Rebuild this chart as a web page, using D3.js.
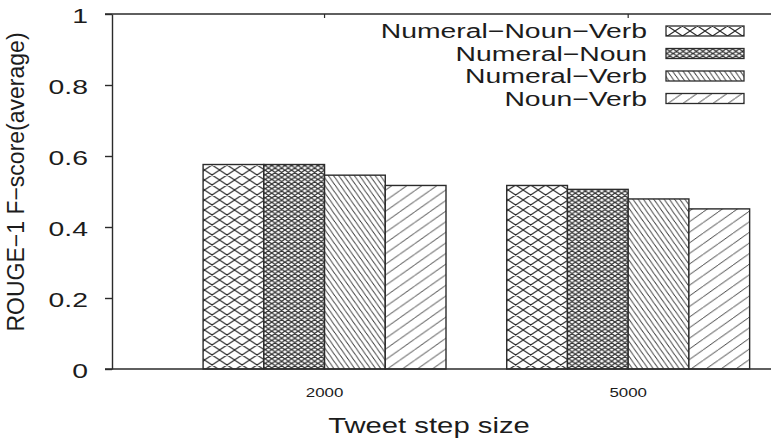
<!DOCTYPE html>
<html>
<head>
<meta charset="utf-8">
<script src="https://cdn.jsdelivr.net/npm/d3@7"></script>
<style>
  html, body { margin: 0; padding: 0; background: #fff; }
  svg { display: block; font-family: "Liberation Sans", Arial, Helvetica, sans-serif; }
</style>
</head>
<body>
<div id="chart"></div>
<script>
const categories = ["2000", "5000"];
const seriesNames = ["Numeral\u2212Noun\u2212Verb", "Numeral\u2212Noun", "Numeral\u2212Verb", "Noun\u2212Verb"];
const values2000 = [0.576, 0.576, 0.546, 0.517];
const values5000 = [0.517, 0.506, 0.479, 0.451];
const yTicks = [0, 0.2, 0.4, 0.6, 0.8, 1];
const yTickLabels = ["0", "0.2", "0.4", "0.6", "0.8", "1"];

const valuesByCategory = [values2000, values5000];

const width = 771;
const height = 440;
const ink = "#2b2b2b";
const textInk = "#1c1c1c";
const stretch = 1.35; // the original's text is drawn wide

const svg = d3.select("#chart")
  .append("svg")
  .attr("width", width)
  .attr("height", height);

// hatch fills, one per series
const defs = svg.append("defs");
const patterns = [
  { id: "p0", w: 15, h: 10, cross: true, sw: 1.1 },
  { id: "p1", w: 6.6, h: 4.6, cross: true, sw: 1.2 },
  { id: "p2", w: 5.2, h: 7.4, back: true, sw: 0.9 },
  { id: "p3", w: 15, h: 10.6, fwd: true, sw: 0.9 }
];
patterns.forEach(p => {
  const pat = defs.append("pattern")
    .attr("id", p.id)
    .attr("patternUnits", "userSpaceOnUse")
    .attr("width", p.w)
    .attr("height", p.h);
  pat.append("rect").attr("width", p.w).attr("height", p.h).attr("fill", "#fff");
  const w = p.w, h = p.h;
  let d = "";
  if (p.cross || p.fwd) {
    d += `M${-w},${h}L0,0M0,${h}L${w},0M${w},${h}L${2 * w},0`;
  }
  if (p.cross || p.back) {
    d += `M${-w},0L0,${h}M0,0L${w},${h}M${w},0L${2 * w},${h}`;
  }
  pat.append("path")
    .attr("d", d)
    .attr("stroke", ink)
    .attr("stroke-width", p.sw)
    .attr("fill", "none");
});

const x = d3.scaleLinear().domain([-0.7, 1.5]).range([112, 780]);
const y = d3.scaleLinear().domain([0, 1]).range([369, 14]);

const groupWidth = x(0.8) - x(0);
const xInner = d3.scaleBand().domain(seriesNames).range([-groupWidth / 2, groupWidth / 2]);

// bars
const groups = svg.selectAll("g.group")
  .data(categories)
  .enter()
  .append("g")
  .attr("class", "group")
  .attr("transform", (d, i) => `translate(${x(i)},0)`);

groups.selectAll("rect")
  .data((d, i) => valuesByCategory[i].map((v, j) => ({ name: seriesNames[j], value: v, idx: j })))
  .enter()
  .append("rect")
  .attr("x", d => xInner(d.name))
  .attr("y", d => y(d.value))
  .attr("width", xInner.bandwidth())
  .attr("height", d => y(0) - y(d.value))
  .attr("fill", d => `url(#${patterns[d.idx].id})`)
  .attr("stroke", ink)
  .attr("stroke-width", 1.4);

// frame: top and bottom lines run off the right edge
svg.append("path")
  .attr("d", `M105,${y(1)}H${width}M105,${y(0)}H${width}`)
  .attr("stroke", ink)
  .attr("stroke-width", 1.4)
  .attr("fill", "none");

// y axis
const yAxis = svg.append("g")
  .attr("transform", `translate(${x(-0.7)},0)`)
  .call(d3.axisLeft(y).tickValues(yTicks).tickFormat((d, i) => yTickLabels[i]).tickSize(7).tickSizeOuter(0));
yAxis.select(".domain").attr("stroke", ink).attr("stroke-width", 1.4);
yAxis.selectAll(".tick line").attr("stroke", ink).attr("stroke-width", 1.4);
yAxis.selectAll(".tick text")
  .attr("x", null)
  .attr("dy", null)
  .attr("fill", textInk)
  .attr("font-size", 21)
  .attr("text-anchor", "end")
  .attr("dominant-baseline", "central")
  .attr("transform", `translate(-24,1) scale(${stretch},1)`);

// mirrored category ticks at the top
svg.selectAll("line.topTick")
  .data(categories)
  .enter()
  .append("line")
  .attr("class", "topTick")
  .attr("x1", (d, i) => x(i))
  .attr("x2", (d, i) => x(i))
  .attr("y1", y(1))
  .attr("y2", y(1) + 4)
  .attr("stroke", ink)
  .attr("stroke-width", 1.2);

// x tick labels
svg.selectAll("text.xTick")
  .data(categories)
  .enter()
  .append("text")
  .attr("class", "xTick")
  .attr("transform", (d, i) => `translate(${x(i)},397) scale(1.3,1)`)
  .attr("text-anchor", "middle")
  .attr("font-size", 13)
  .attr("fill", textInk)
  .text(d => d);

// axis titles
svg.append("text")
  .attr("transform", `translate(429,433) scale(1.33,1)`)
  .attr("text-anchor", "middle")
  .attr("font-size", 22)
  .attr("fill", textInk)
  .text("Tweet step size");

svg.append("text")
  .attr("transform", "translate(24,182) rotate(-90)")
  .attr("text-anchor", "middle")
  .attr("font-size", 23)
  .attr("fill", textInk)
  .text("ROUGE\u22121 F\u2212score(average)");

// legend
const legend = svg.selectAll("g.legend")
  .data(seriesNames)
  .enter()
  .append("g")
  .attr("class", "legend")
  .attr("transform", (d, i) => `translate(0,${31 + i * 22.5})`);

legend.append("text")
  .attr("transform", `translate(647,7) scale(${stretch},1)`)
  .attr("text-anchor", "end")
  .attr("font-size", 21)
  .attr("fill", textInk)
  .text(d => d);

legend.append("rect")
  .attr("x", 666)
  .attr("y", -5)
  .attr("width", 78)
  .attr("height", 10)
  .attr("fill", (d, i) => `url(#${patterns[i].id})`)
  .attr("stroke", ink)
  .attr("stroke-width", 1.3);
</script>
</body>
</html>
